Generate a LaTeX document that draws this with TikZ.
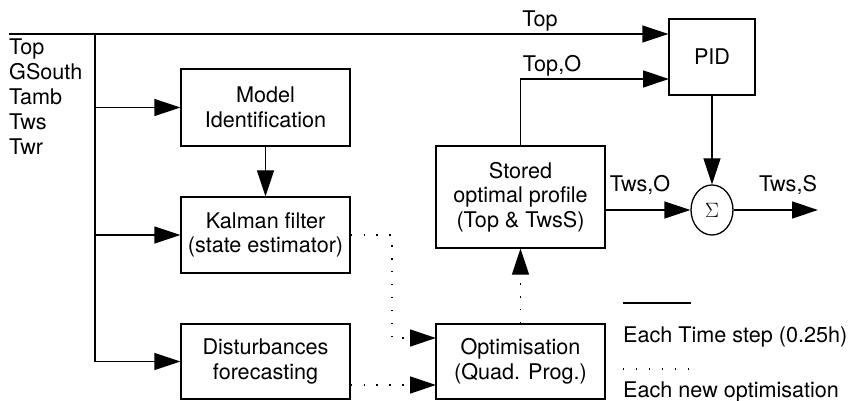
\documentclass[tikz,border=0pt]{standalone}
\usepackage{fontspec}
\setmainfont{TeX Gyre Heros}
\usetikzlibrary{arrows.meta,shapes.geometric}
\tikzset{
  lw/.style={line width=1.3pt},
  blk/.style={draw, lw, align=center, inner sep=0pt, minimum width=169pt},
  arr/.style={lw, -{Triangle[length=26pt,width=17pt]}},
  dotln/.style={lw, dash pattern=on 1.4pt off 11.5pt},
  dotarr/.style={dotln, -{Triangle[length=26pt,width=17pt]}},
  lbl/.style={inner sep=0pt, anchor=base},
  inl/.style={inner sep=0pt, anchor=base west},
}
\begin{document}
\begin{tikzpicture}[x=1pt, y=-1pt, font=\fontsize{21.6}{24.5}\selectfont]
\useasboundingbox (0,0) rectangle (852,401);

% boxes
\node[blk, minimum height=77pt] (Model) at (265.5,107.5) {Model\\Identification};
\node[blk, minimum height=76pt] (Kalman) at (265.5,235) {Kalman filter\\(state estimator)};
\node[blk, minimum height=75pt] (Dist) at (265.5,361.5) {Disturbances\\forecasting};
\node[blk, minimum height=102pt] (Stored) at (520.5,197) {Stored\\optimal profile\\(Top \& TwsS)};
\node[blk, minimum height=75pt] (Opt) at (520.5,361.5) {Optimisation\\(Quad. Prog.)};
\node[blk, minimum width=86pt, minimum height=76pt] (PID) at (712,57) {PID};
\node[draw, lw, ellipse, inner sep=0pt, minimum width=42pt, minimum height=50pt] (Sig) at (712,210) {\fontsize{20}{22}\selectfont$\Sigma$};

% input labels
\node[inl] (i1) at (9,55) {Top};
\node[inl] (i2) at (9,80) {GSouth};
\node[inl] (i3) at (9,105) {Tamb};
\node[inl] (i4) at (9,130) {Tws};
\node[inl] (i5) at (9,155) {Twr};

% bus
\coordinate (tl) at (9,34);
\coordinate (bt) at (95,34);
\coordinate (bb) at (95,361.5);
\draw[arr] (tl) -- (tl -| PID.west);
\draw[lw] (bt) -- (bb);
\draw[arr] (bb) -- (Dist.west);
\draw[arr] (bt |- Model.west) -- (Model.west);
\draw[arr] (bt |- Kalman.west) -- (Kalman.west);
\draw[arr] (Model.south) -- (Kalman.north);

% right part
\coordinate (pin2) at (669,79);
\draw[arr] (Stored.north) |- (pin2);
\draw[arr] (PID.south) -- (Sig.north);
\draw[arr] (Stored.east |- Sig.west) -- (Sig.west);
\coordinate (out) at (818,210);
\draw[arr] (Sig.east) -- (out);

% dotted
\coordinate (kc) at (392,235);
\coordinate (oin1) at (436,338);
\coordinate (oin2) at (436,385);
\draw[dotarr] (Kalman.east) -- (kc) |- (oin1);
\draw[dotarr] (Dist.east |- oin2) -- (oin2);
\draw[dotarr] (Opt.north) -- (Stored.south);

% connector labels
\node[lbl] (l1) at (540,27) {Top};
\node[lbl] (l2) at (552,72) {Top,O};
\node[lbl] (l3) at (640,192) {Tws,O};
\node[lbl] (l4) at (788,192) {Tws,S};

% legend
\coordinate (g1a) at (623,303);
\coordinate (g1b) at (691,303);
\coordinate (g2a) at (623,369);
\coordinate (g2b) at (691,369);
\draw[lw] (g1a) -- (g1b);
\draw[dotln] (g2a) -- (g2b);
\node[inl] (t1) at (623,342) {Each Time step (0.25h)};
\node[inl] (t2) at (623,397) {Each new optimisation};
\end{tikzpicture}
\end{document}
